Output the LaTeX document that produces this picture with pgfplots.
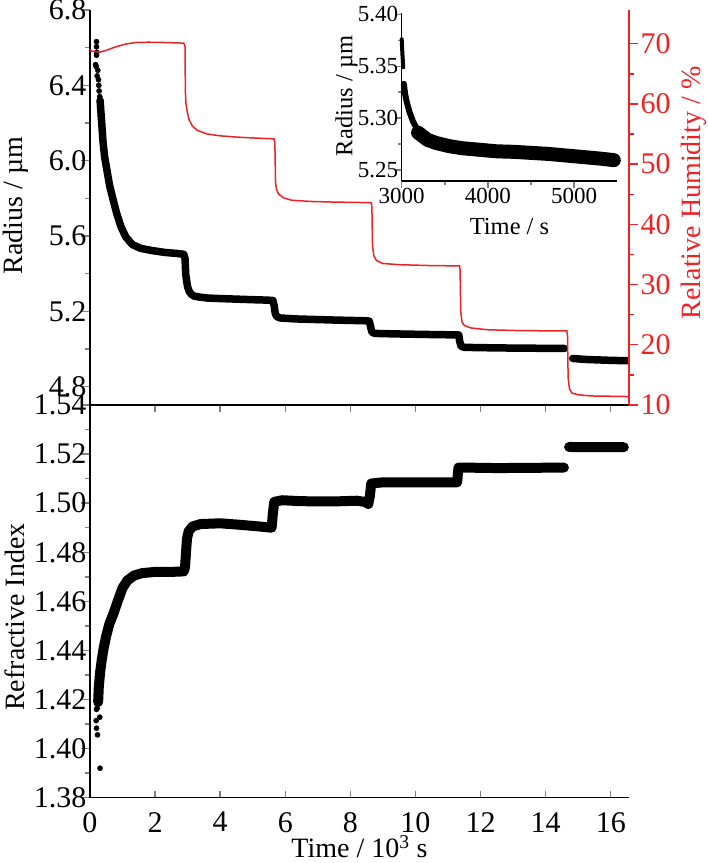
\documentclass[border=0pt]{standalone}
\usepackage{pgfplots}
\pgfplotsset{compat=1.18}
\usepackage{fontspec}
\setmainfont{Liberation Serif}
\definecolor{rhred}{RGB}{236,34,36}
\newcommand{\tickf}{\fontsize{30}{34}\selectfont}
\newcommand{\bigf}{\fontsize{28}{32}\selectfont}
\newcommand{\insf}{\fontsize{23}{26}\selectfont}
\newcommand{\inslf}{\fontsize{24.5}{28}\selectfont}
\pgfplotsset{
  myaxis/.style={
    scale only axis, anchor=south west,
    /pgf/number format/assume math mode=true,
    /pgf/number format/1000 sep={},
    axis line style={line width=1.5pt},
    tick style={line width=1.4pt},
    major tick length=9pt, minor tick length=5pt,
    tick label style={font=\tickf},
    label style={font=\bigf},
  },
}
\begin{document}
\begin{tikzpicture}
\path[use as bounding box] (0pt,0pt) rectangle (708pt,863pt);

% ---------------- Refractive index (bottom) ----------------
\begin{axis}[myaxis, at={(90pt,65.3pt)}, width=539pt, height=392.7pt,
  xmin=0, xmax=16.56, ymin=1.38, ymax=1.54,
  axis x line*=box, axis y line*=left,
  xtick={0,2,4,6,8,10,12,14,16}, major x tick style={/pgfplots/major tick length=7pt},
  ytick={1.38,1.40,1.42,1.44,1.46,1.48,1.50,1.52,1.54}, minor y tick num=1,
  major y tick style={xshift=-9pt}, minor y tick style={xshift=-5pt},
  yticklabel style={/pgf/number format/fixed, /pgf/number format/fixed zerofill, /pgf/number format/precision=2},
  xticklabel style={yshift=-11pt},
  xlabel={Time / 10\textsuperscript{3} s},
  xlabel style={at={(axis description cs:0.5,0)}, anchor=base, yshift=-60pt},
  ylabel={Refractive Index},
  ylabel style={at={(axis description cs:-0.1577,0.46)}, anchor=north, inner sep=0pt},
]
\addplot[only marks, mark=*, mark size=2.6pt, black] coordinates {
(0.20,1.4160) (0.19,1.4114) (0.20,1.4083) (0.23,1.4056) (0.30,1.4128) (0.31,1.3920) (0.22,1.4165) (0.25,1.4185)
};
\addplot[black, line width=10pt, line cap=round, line join=round] coordinates {
(0.25,1.419) (0.27,1.425) (0.31,1.431) (0.36,1.436) (0.42,1.441) (0.50,1.446) (0.60,1.451) (0.72,1.455) (0.85,1.460) (1.00,1.4655) (1.15,1.4685) (1.35,1.4705) (1.60,1.4715) (2.00,1.4720) (2.50,1.4720) (2.88,1.4722) (2.92,1.4740) (2.95,1.4800) (2.98,1.4855) (3.03,1.4885) (3.15,1.4905) (3.40,1.4915) (4.00,1.4918) (4.60,1.4912) (5.20,1.4905) (5.58,1.4900) (5.62,1.4960) (5.66,1.5005) (5.90,1.5012) (6.50,1.5008) (7.50,1.5007) (8.20,1.5010) (8.45,1.5005) (8.55,1.4997) (8.60,1.5030) (8.64,1.5080) (9.00,1.5085) (10.00,1.5085) (11.28,1.5085) (11.32,1.5145) (11.50,1.5145) (12.50,1.5143) (14.56,1.5145)
};
\addplot[black, line width=10pt, line cap=round] coordinates {
(14.72,1.5229) (15.50,1.5228) (16.40,1.5228)
};
\end{axis}

% ---------------- Radius (top, left axis) ----------------
\begin{axis}[myaxis, at={(90pt,458pt)}, width=539pt, height=395pt,
  xmin=0, xmax=16.56, ymin=4.703, ymax=6.8,
  axis y line*=left, hide x axis,
  ytick={4.8,5.2,5.6,6.0,6.4,6.8}, minor y tick num=1,
  major y tick style={xshift=-9pt}, minor y tick style={xshift=-5pt},
  yticklabel style={/pgf/number format/fixed, /pgf/number format/fixed zerofill, /pgf/number format/precision=1},
  ylabel={Radius / µm},
  ylabel style={at={(axis description cs:-0.1614,0.505)}, anchor=north, inner sep=0pt},
]
\addplot[only marks, mark=*, mark size=2.6pt, black] coordinates {
(0.20,6.632) (0.20,6.605) (0.21,6.575) (0.20,6.560) (0.17,6.510) (0.19,6.500) (0.24,6.480) (0.22,6.450) (0.26,6.430) (0.27,6.400) (0.28,6.370) (0.30,6.340)
};
\addplot[black, line width=7.5pt, line cap=round, line join=round] coordinates {
(0.31,6.32) (0.33,6.27) (0.36,6.20) (0.40,6.10) (0.45,6.02) (0.52,5.95) (0.60,5.87) (0.70,5.80) (0.82,5.72) (0.95,5.65) (1.10,5.595) (1.30,5.555) (1.55,5.535) (1.90,5.523) (2.30,5.513) (2.70,5.507) (2.88,5.503) (2.92,5.48) (2.94,5.40) (2.97,5.36) (3.00,5.33) (3.05,5.305) (3.12,5.29) (3.20,5.281) (3.35,5.276) (3.60,5.271) (4.00,5.268) (4.50,5.265) (5.00,5.262) (5.40,5.260) (5.62,5.258) (5.66,5.23) (5.69,5.19) (5.74,5.172) (5.85,5.165) (6.30,5.160) (7.50,5.154) (8.50,5.150) (8.58,5.148) (8.62,5.12) (8.66,5.09) (8.75,5.083) (9.50,5.080) (10.50,5.077) (11.33,5.075) (11.36,5.04) (11.40,5.015) (11.50,5.009) (12.50,5.006) (14.58,5.003)
};
\addplot[black, line width=7.5pt, line cap=round] coordinates {
(14.83,4.950) (15.20,4.945) (16.00,4.940) (16.50,4.938)
};
\end{axis}

% ---------------- Relative humidity (top, right axis) ----------------
\begin{axis}[myaxis, at={(90pt,458pt)}, width=539pt, height=395pt,
  xmin=0, xmax=16.56, ymin=10, ymax=75.6,
  axis y line*=right, hide x axis,
  axis line style={rhred}, tick style={rhred},
  ytick={10,20,30,40,50,60,70}, minor y tick num=1,
  major y tick style={xshift=9pt}, minor y tick style={xshift=5pt},
  yticklabel style={rhred, xshift=8pt},
  ylabel={Relative Humidity / \%},
  ylabel style={rhred, at={(axis description cs:1.0965,0.537)}, anchor=north, inner sep=0pt},
]
\addplot[rhred, line width=1.5pt] coordinates {
(0,68.85) (0.15,68.7) (0.3,68.6) (0.5,68.9) (0.8,69.5) (1.1,69.95) (1.4,70.2) (1.8,70.25) (2.3,70.2) (2.88,70.1) (2.92,69.5) (2.93,62) (2.95,60) (3.0,58.3) (3.05,57.3) (3.15,56.3) (3.3,55.6) (3.6,55.0) (4.0,54.7) (4.5,54.5) (5.0,54.35) (5.65,54.2) (5.68,53.5) (5.7,47) (5.73,45.8) (5.8,45.0) (5.95,44.4) (6.2,44.0) (6.8,43.8) (7.5,43.7) (8.64,43.6) (8.66,43) (8.68,36.5) (8.72,34.8) (8.8,34.0) (9.0,33.5) (9.5,33.3) (10.5,33.15) (11.35,33.1) (11.37,32.5) (11.39,25.5) (11.43,23.8) (11.5,23.2) (11.7,22.8) (12.2,22.5) (13.2,22.35) (14.65,22.3) (14.67,21.7) (14.69,14.5) (14.73,12.7) (14.8,12.0) (15.0,11.7) (15.4,11.5) (16.0,11.45) (16.56,11.4)
};
\end{axis}

% ---------------- Inset ----------------
\begin{axis}[myaxis, at={(401.7pt,682pt)}, width=215.6pt, height=167.7pt,
  xmin=3000, xmax=5500, ymin=5.2394, ymax=5.401, clip=false,
  axis x line*=bottom, axis y line*=left,
  major tick length=7pt, minor tick length=4pt,
  xtick={3000,4000,5000}, minor x tick num=1,
  ytick={5.25,5.30,5.35,5.40}, minor y tick num=1,
  major y tick style={xshift=-7pt}, minor y tick style={xshift=-4pt},
  major x tick style={yshift=-7pt}, minor x tick style={yshift=-4pt},
  tick label style={font=\insf},
  xticklabel style={yshift=-4pt},
  label style={font=\inslf},
  yticklabel style={/pgf/number format/fixed, /pgf/number format/fixed zerofill, /pgf/number format/precision=2},
  xlabel={Time / s},
  xlabel style={at={(axis description cs:0.5,0)}, anchor=base, yshift=-54pt},
  ylabel={Radius / µm},
  ylabel style={at={(axis description cs:-0.309,0.507)}, anchor=north, inner sep=0pt},
]
\addplot[black, line width=4pt, line cap=round] coordinates {
(3000,5.376) (3008,5.362) (3018,5.349)
};
\addplot[black, line width=6pt, line cap=round, line join=round] coordinates {
(3025,5.333) (3040,5.323) (3060,5.315) (3090,5.306) (3130,5.297) (3180,5.289) (3230,5.284)
};
\addplot[black, line width=14pt, line cap=round, line join=round] coordinates {
(3190,5.286) (3300,5.279) (3400,5.276) (3550,5.273) (3700,5.271) (3900,5.2695) (4100,5.268) (4300,5.2675) (4500,5.2665) (4700,5.2655) (4900,5.264) (5100,5.2625) (5300,5.261) (5460,5.2595)
};
\end{axis}
\end{tikzpicture}
\end{document}
